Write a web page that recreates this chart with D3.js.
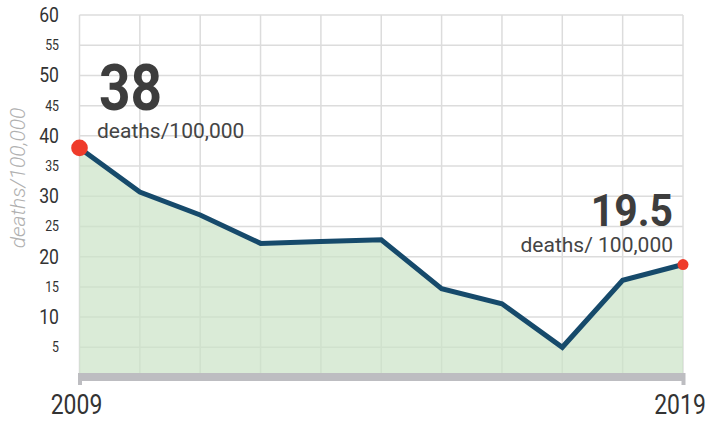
<!DOCTYPE html>
<html>
<head>
<meta charset="utf-8">
<script src="https://cdn.jsdelivr.net/npm/d3@7"></script>
<style>
  html, body { margin: 0; padding: 0; background: #fff; }
  svg { display: block; font-family: Roboto, "Noto Sans", sans-serif; }
</style>
</head>
<body>
<div id="chart"></div>
<script>
// data
var years = [2009, 2010, 2011, 2012, 2013, 2014, 2015, 2016, 2017, 2018, 2019];
var rates = [38, 30.7, 26.9, 22.2, 22.5, 22.8, 14.7, 12.2, 5.0, 16.1, 18.7];
var majorTicks = [10, 20, 30, 40, 50, 60];
var minorTicks = [5, 15, 25, 35, 45, 55];
var yearLabels = [2009, 2019];
var yTitle = 'deaths/100,000';
var callouts = [
    { year: 2009, value: 38, big: '38', sub: 'deaths/100,000', r: 8.3 },
    { year: 2019, value: 18.7, big: '19.5', sub: 'deaths/ 100,000', r: 5.5 }
];

var width = 705;
var height = 421;

var x = d3.scaleLinear().domain([2009, 2019]).range([79.5, 683]);
var y = d3.scaleLinear().domain([0, 60]).range([377.5, 15]);

var svg = d3.select('#chart').append('svg')
    .attr('width', width)
    .attr('height', height);

// area under the line
var area = d3.area()
    .x(function (d, i) { return x(years[i]); })
    .y0(y(0))
    .y1(function (d) { return y(d); });

// grid
var grid = svg.append('g');
grid.selectAll('.hgrid')
    .data(majorTicks.concat(minorTicks))
    .enter().append('line')
    .attr('x1', x(2009))
    .attr('x2', x(2019))
    .attr('y1', function (d) { return y(d); })
    .attr('y2', function (d) { return y(d); })
    .attr('stroke', '#dcdcdc')
    .attr('stroke-width', 1.5);
grid.selectAll('.vgrid')
    .data(years)
    .enter().append('line')
    .attr('x1', function (d) { return x(d); })
    .attr('x2', function (d) { return x(d); })
    .attr('y1', y(60))
    .attr('y2', y(0))
    .attr('stroke', '#dcdcdc')
    .attr('stroke-width', 1.5);

svg.append('path')
    .datum(rates)
    .attr('d', area)
    .attr('fill', '#cbe3c6')
    .attr('fill-opacity', 0.7);

// condensed look via horizontal scale
function condensed(sel, sx) {
    sel.attr('transform', function (d) {
        return 'translate(' + d.tx + ',' + d.ty + ') scale(' + sx + ',1)';
    });
}

svg.selectAll('.ymajor')
    .data(majorTicks.map(function (v) { return { v: v, tx: 59, ty: y(v) + 7 }; }))
    .enter().append('text')
    .text(function (d) { return d.v; })
    .attr('text-anchor', 'end')
    .attr('font-size', 20)
    .attr('fill', '#333')
    .call(condensed, 0.88);

svg.selectAll('.yminor')
    .data(minorTicks.map(function (v) { return { v: v, tx: 59, ty: y(v) + 5 }; }))
    .enter().append('text')
    .text(function (d) { return d.v; })
    .attr('text-anchor', 'end')
    .attr('font-size', 14)
    .attr('fill', '#333')
    .call(condensed, 0.88);

// y title
svg.append('text')
    .attr('transform', 'translate(25,' + 178 + ') rotate(-90)')
    .attr('text-anchor', 'middle')
    .attr('font-size', 21)
    .attr('font-style', 'italic')
    .attr('font-weight', 300)
    .attr('fill', '#b0b0b0')
    .text(yTitle);

// x axis bar with end ticks
var xAxis = d3.axisBottom(x)
    .tickValues(yearLabels)
    .tickSize(12)
    .tickFormat('');
var ax = svg.append('g')
    .attr('transform', 'translate(0,' + 373 + ')')
    .call(xAxis);
ax.select('.domain').remove();
ax.selectAll('.tick line')
    .attr('stroke', '#bdbdc1')
    .attr('stroke-width', 4);
ax.insert('rect', ':first-child')
    .attr('x', x(2009) - 1.5)
    .attr('y', 0)
    .attr('width', x(2019) - x(2009) + 3)
    .attr('height', 8)
    .attr('fill', '#bdbdc1');

svg.selectAll('.year')
    .data(yearLabels.map(function (v) { return { v: v, tx: x(v) - 3, ty: 414 }; }))
    .enter().append('text')
    .text(function (d) { return d.v; })
    .attr('text-anchor', 'middle')
    .attr('font-size', 27)
    .attr('fill', '#333')
    .call(condensed, 0.85);

// the line
var line = d3.line()
    .x(function (d, i) { return x(years[i]); })
    .y(function (d) { return y(d); });

svg.append('path')
    .datum(rates)
    .attr('d', line)
    .attr('fill', 'none')
    .attr('stroke', '#164a6b')
    .attr('stroke-width', 5)
    .attr('stroke-linejoin', 'miter');

// end dots
svg.selectAll('.dot')
    .data(callouts)
    .enter().append('circle')
    .attr('cx', function (d) { return x(d.year); })
    .attr('cy', function (d) { return y(d.value); })
    .attr('r', function (d) { return d.r; })
    .attr('fill', '#ef3b2a');

// callout labels
var first = callouts[0];
svg.append('text')
    .datum({ tx: 99, ty: 110 })
    .text(first.big)
    .attr('font-size', 64)
    .attr('font-weight', 700)
    .attr('fill', '#3d3d3d')
    .call(condensed, 0.86);
svg.append('text')
    .attr('x', 97)
    .attr('y', 138)
    .attr('font-size', 21)
    .attr('fill', '#444')
    .text(first.sub);

var last = callouts[1];
svg.append('text')
    .datum({ tx: 673, ty: 226 })
    .text(last.big)
    .attr('text-anchor', 'end')
    .attr('font-size', 44)
    .attr('font-weight', 700)
    .attr('fill', '#3d3d3d')
    .call(condensed, 0.93);
svg.append('text')
    .attr('x', 673)
    .attr('y', 252)
    .attr('text-anchor', 'end')
    .attr('font-size', 21)
    .attr('fill', '#444')
    .text(last.sub);
</script>
</body>
</html>
